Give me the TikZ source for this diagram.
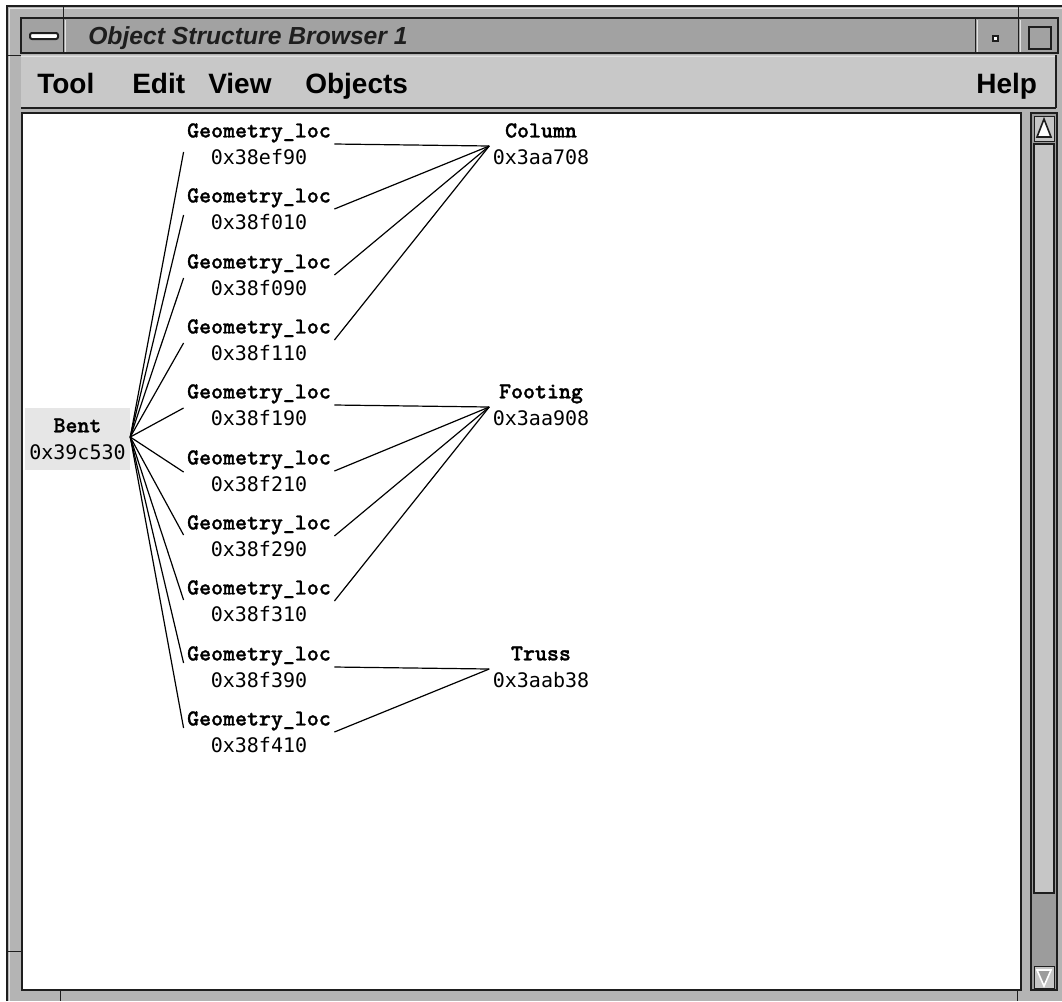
\documentclass[tikz,border=0pt]{standalone}
\usepackage{fontspec}
\usetikzlibrary{calc}
\newfontfamily\uifont{Liberation Sans}
\newfontfamily\hexfont{DejaVu Sans Mono}
\newfontfamily\slabfont{lmmonolt10-bold.otf}[FakeBold=1.2]
\newcommand\objname[1]{{\slabfont\fontsize{17.1}{20.25}\selectfont #1}}
\definecolor{framegray}{HTML}{B4B4B4}
\definecolor{titlegray}{HTML}{A2A2A2}
\definecolor{menugray}{HTML}{C8C8C8}
\definecolor{troughgray}{HTML}{9C9C9C}
\definecolor{slidergray}{HTML}{C6C6C6}
\definecolor{selgray}{HTML}{E6E6E6}
\definecolor{edge}{HTML}{1E1E1E}
\definecolor{hilite}{HTML}{E2E2E2}

\tikzset{
  edgeline/.style={draw=edge, line width=0.75pt},
  thickedge/.style={draw=edge, line width=1.5pt},
  menuitem/.style={anchor=base west, inner sep=0pt, font=\uifont\bfseries\fontsize{21}{25}\selectfont, text=black},
  obj/.style={align=center, inner xsep=2.5pt, inner ysep=1pt,
              font=\hexfont\fontsize{15}{20.25}\selectfont, text=black},
  link/.style={draw=black, line width=0.9pt},
}

\begin{document}
\begin{tikzpicture}[x=0.75pt, y=-0.75pt]
\useasboundingbox (0,0) rectangle (1062,1001);
\fill[white] (0,0) rectangle (1062,1001);

% window frame
\fill[framegray] (7,6) rectangle (1062,1001);
\draw[thickedge] (7,1001) -- (7,6) -- (1062,6);
\draw[hilite, line width=0.75pt] (9,1001) -- (9,8) -- (1062,8);
% resize handle ticks
\draw[edgeline] (63,6) -- (63,18);
\draw[edgeline] (1018,6) -- (1018,18);
\draw[edgeline] (7,55) -- (21,55);
\draw[edgeline] (7,951) -- (21,951);
\draw[edgeline] (60,990) -- (60,1001);
\draw[edgeline] (1017,990) -- (1017,1001);

% title bar
\filldraw[fill=titlegray, thickedge] (21,18) rectangle (1058,53);
\draw[edgeline] (63,18) -- (63,53);
\draw[edgeline] (975,18) -- (975,53);
\draw[edgeline] (1018,18) -- (1018,53);
\draw[hilite, line width=0.75pt] (65,20) -- (65,52);
\draw[hilite, line width=0.75pt] (977,20) -- (977,52);
\draw[hilite, line width=0.75pt] (1020,20) -- (1020,52);
\filldraw[fill=white, thickedge, rounded corners=1.5pt] (30,33) rectangle (58,39);
\filldraw[fill=white, thickedge] (993,36) rectangle (998,41);
\draw[draw=edge, line width=2pt] (1029,27) rectangle (1051,49);
\node[anchor=base west, inner sep=0pt, text=edge,
      font=\uifont\bfseries\itshape\fontsize{18.5}{22}\selectfont] (title) at (88,44) {Object Structure Browser 1};

% menu bar
\fill[menugray] (21,55) rectangle (1056,108);
\draw[hilite, line width=0.75pt] (21,56) -- (1056,56);
\draw[draw=edge, line width=1.5pt] (1056,55) -- (1056,108);
\draw[draw=edge, line width=2pt] (21,108) -- (1056,108);
\node[menuitem] (mtool) at (37,93) {Tool};
\node[menuitem] (medit) at (132,93) {Edit};
\node[menuitem] (mview) at (208,93) {View};
\node[menuitem] (mobj) at (305,93) {Objects};
\node[menuitem] (mhelp) at (976,93) {Help};

% drawing area
\filldraw[fill=white, draw=edge, line width=2pt] (22,113) rectangle (1021,990);

% vertical scroll bar
\filldraw[fill=troughgray, thickedge] (1031,113) rectangle (1057,990);
\filldraw[fill=slidergray, edgeline] (1034,116) rectangle (1054,141);
\filldraw[fill=white, edgeline, line width=1.2pt] (1037,137) -- (1044,119) -- (1051,137) -- cycle;
\filldraw[fill=slidergray, edgeline, line width=1.5pt] (1034,144) rectangle (1054,893);
\filldraw[fill=slidergray, edgeline] (1034,966) rectangle (1054,988);
\filldraw[fill=troughgray, draw=white, line width=1.2pt] (1037,970) -- (1051,970) -- (1044,986) -- cycle;

% selected object
\node[obj, fill=selgray, minimum width=105*0.75pt, minimum height=62*0.75pt] (bent) at (77.5,439)
  {\objname{Bent}\\0x39c530};

% location objects
\node[obj] (g1)  at (259,144) {\objname{Geometry\_loc}\\0x38ef90};
\node[obj] (g2)  at (259,209) {\objname{Geometry\_loc}\\0x38f010};
\node[obj] (g3)  at (259,275) {\objname{Geometry\_loc}\\0x38f090};
\node[obj] (g4)  at (259,340) {\objname{Geometry\_loc}\\0x38f110};
\node[obj] (g5)  at (259,405) {\objname{Geometry\_loc}\\0x38f190};
\node[obj] (g6)  at (259,471) {\objname{Geometry\_loc}\\0x38f210};
\node[obj] (g7)  at (259,536) {\objname{Geometry\_loc}\\0x38f290};
\node[obj] (g8)  at (259,601) {\objname{Geometry\_loc}\\0x38f310};
\node[obj] (g9)  at (259,667) {\objname{Geometry\_loc}\\0x38f390};
\node[obj] (g10) at (259,732) {\objname{Geometry\_loc}\\0x38f410};

% structural objects
\node[obj] (col)   at (541,144) {\objname{Column}\\0x3aa708};
\node[obj] (foot)  at (541,405) {\objname{Footing}\\0x3aa908};
\node[obj] (truss) at (541,667) {\objname{Truss}\\0x3aab38};

% links from the bent
\coordinate (hub) at ($(bent.east)+(0,-2)$);
\draw[link] (hub) -- ($(g1.west)+(0,8)$);
\draw[link] (hub) -- ($(g2.west)+(0,6)$);
\draw[link] (hub) -- ($(g3.west)+(0,3)$);
\draw[link] (hub) -- ($(g4.west)+(0,3)$);
\draw[link] (hub) -- ($(g5.west)+(0,3)$);
\draw[link] (hub) -- ($(g6.west)+(0,1)$);
\draw[link] (hub) -- ($(g7.west)+(0,-1)$);
\draw[link] (hub) -- ($(g8.west)+(0,-1)$);
\draw[link] (hub) -- ($(g9.west)+(0,-4)$);
\draw[link] (hub) -- ($(g10.west)+(0,-4)$);

% links to the structural objects
\foreach \g in {g1,g2,g3,g4} \draw[link] (\g.east) -- ($(col.west)+(0,2)$);
\foreach \g in {g5,g6,g7,g8} \draw[link] (\g.east) -- ($(foot.west)+(0,2)$);
\foreach \g in {g9,g10} \draw[link] (\g.east) -- ($(truss.west)+(0,2)$);
\end{tikzpicture}
\end{document}
